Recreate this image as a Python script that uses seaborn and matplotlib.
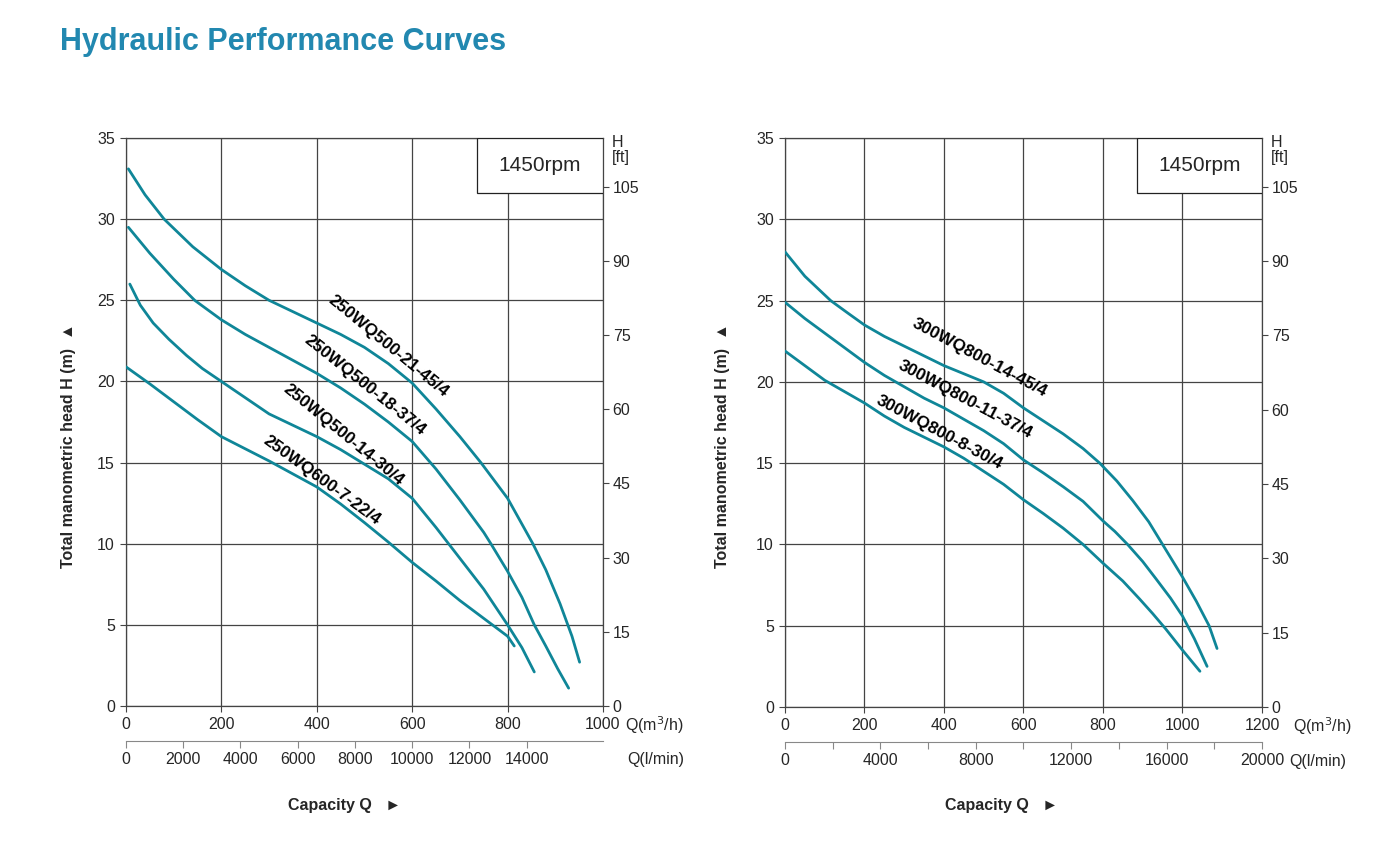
import numpy as np
import pandas as pd
import matplotlib
matplotlib.use("Agg")
import matplotlib.pyplot as plt
import seaborn as sns
from matplotlib.patches import Rectangle

# ---- data (Q in m3/h, H in m) ----
left_models = ['250WQ500-21-45/4', '250WQ500-18-37/4', '250WQ500-14-30/4', '250WQ600-7-22/4']
left_q = [
    [5, 40, 80, 140, 200, 250, 300, 350, 400, 450, 500, 550, 600, 650, 700, 744, 800,
     853, 880, 910, 935, 951],
    [5, 50, 100, 144, 200, 250, 300, 350, 400, 450, 500, 550, 600, 650, 700, 750, 765,
     800, 830, 856, 880, 905, 928],
    [8, 30, 57, 90, 127, 160, 200, 250, 300, 350, 400, 450, 500, 550, 600, 650, 700, 750,
     800, 830, 856],
    [0, 50, 100, 150, 200, 250, 300, 350, 400, 450, 500, 550, 600, 650, 700, 750, 800, 814],
]
left_h = [
    [33.1, 31.5, 30.0, 28.3, 26.9, 25.9, 25.0, 24.3, 23.6, 22.9, 22.1, 21.1, 19.9, 18.3,
     16.6, 15.0, 12.8, 10.0, 8.4, 6.3, 4.3, 2.7],
    [29.5, 27.9, 26.3, 25.0, 23.8, 22.9, 22.1, 21.3, 20.5, 19.6, 18.6, 17.5, 16.3, 14.6,
     12.7, 10.7, 10.0, 8.3, 6.7, 5.0, 3.7, 2.3, 1.1],
    [26.0, 24.7, 23.6, 22.6, 21.6, 20.8, 20.0, 19.0, 18.0, 17.3, 16.6, 15.8, 14.9, 14.0,
     12.8, 11.0, 9.1, 7.2, 5.0, 3.6, 2.1],
    [20.9, 19.85, 18.75, 17.65, 16.6, 15.85, 15.1, 14.3, 13.5, 12.45, 11.3, 10.1, 8.85,
     7.7, 6.5, 5.4, 4.3, 3.7],
]
right_models = ['300WQ800-14-45/4', '300WQ800-11-37/4', '300WQ800-8-30/4']
right_q = [
    [0, 50, 115, 160, 200, 250, 300, 350, 400, 450, 500, 550, 600, 650, 700, 750, 792,
     835, 875, 915, 950, 1000, 1035, 1067, 1087],
    [0, 50, 100, 150, 200, 250, 300, 350, 400, 450, 500, 550, 600, 650, 700, 750, 800,
     830, 862, 900, 933, 970, 1000, 1030, 1062],
    [0, 50, 100, 150, 200, 250, 300, 350, 400, 450, 500, 550, 600, 650, 700, 750, 800,
     850, 892, 925, 958, 1000, 1044],
]
right_h = [
    [28.0, 26.5, 25.0, 24.2, 23.5, 22.8, 22.2, 21.6, 21.0, 20.5, 20.0, 19.3, 18.4, 17.6,
     16.8, 15.9, 15.0, 13.9, 12.7, 11.4, 10.0, 8.0, 6.5, 5.0, 3.6],
    [24.9, 23.9, 23.0, 22.1, 21.2, 20.4, 19.7, 19.0, 18.4, 17.7, 17.0, 16.2, 15.2, 14.4,
     13.55, 12.65, 11.45, 10.8, 10.0, 8.95, 7.9, 6.7, 5.6, 4.2, 2.5],
    [21.9, 21.0, 20.1, 19.4, 18.7, 17.9, 17.2, 16.6, 16.0, 15.3, 14.5, 13.7, 12.75, 11.9,
     11.0, 10.0, 8.85, 7.75, 6.65, 5.75, 4.8, 3.5, 2.2],
]
# label placement (Q, H, angle)
left_lbl = [(549, 22.2, -39.5), (501, 19.8, -38.7), (455, 16.7, -39.3), (411, 13.9, -36.0)]
right_lbl = [(490, 21.5, -28.0), (453, 18.9, -28.0), (387, 16.9, -28.0)]

teal = '#0f8698'
grid_c = '#444444'

sns.set_style('white')
plt.rcParams['font.family'] = ['Liberation Sans', 'DejaVu Sans']


def to_df(models, qs, hs):
    rows = []
    for m, q, h in zip(models, qs, hs):
        for a, b in zip(q, h):
            rows.append((m, a, b))
    return pd.DataFrame(rows, columns=['model', 'Q', 'H'])


def panel(ax, models, qs, hs, lbls, xmax, lmin_major, lmin_minor, box_x0, qlab_x, llab_x):
    df = to_df(models, qs, hs)
    sns.lineplot(data=df, x='Q', y='H', hue='model', palette=[teal] * len(models),
                 sort=False, estimator=None, legend=False, lw=2.0, ax=ax, zorder=3)
    ax.set_xlim(0, xmax)
    ax.set_ylim(0, 35)
    ax.set_xticks(np.arange(0, xmax + 1, 200))
    ax.set_yticks(np.arange(0, 36, 5))
    ax.grid(True, color=grid_c, lw=0.9)
    for s in ax.spines.values():
        s.set_color(grid_c)
        s.set_linewidth(0.9)
    ax.tick_params(axis='both', direction='out', length=4, width=0.8, color=grid_c,
                   labelsize=11.5, pad=4, bottom=True, left=True)
    ax.set_xlabel('')
    ax.set_ylabel('')
    for m, (x, y, ang) in zip(models, lbls):
        ax.text(x, y, m, rotation=ang, ha='center', va='center', fontsize=12.3,
                fontweight='bold', color='black', zorder=5, rotation_mode='anchor')

    # rpm box
    ax.add_patch(Rectangle((box_x0, 31.6), xmax - box_x0, 3.4, facecolor='white',
                           edgecolor='#222222', lw=0.9, zorder=4))
    ax.text((box_x0 + xmax) / 2, 33.3, '1450rpm', ha='center', va='center',
            fontsize=15, zorder=5)

    # ft axis on the right
    ax2 = ax.twinx()
    ax2.set_ylim(0, 35 * 3.28084)
    ax2.set_yticks(np.arange(0, 106, 15))
    ax2.tick_params(axis='y', direction='out', length=4, width=0.8, color=grid_c,
                    labelsize=11.5, pad=3)
    for s in ax2.spines.values():
        s.set_visible(False)
    ax2.grid(False)
    ax.text(1.019, 0.979, 'H\n[ft]', transform=ax.transAxes, ha='left', va='center',
            fontsize=11.5, linespacing=1.0)

    # l/min axis below
    sec = ax.secondary_xaxis(-0.0616, functions=(lambda q: q * 1000 / 60,
                                                  lambda l: l * 60 / 1000))
    sec.set_xticks(lmin_major)
    if lmin_minor:
        sec.set_xticks(lmin_minor, minor=True)
    sec.spines['bottom'].set_color('#888888')
    sec.tick_params(axis='x', which='both', direction='out', length=5, width=0.8,
                    color='#888888', labelsize=11.5, pad=3)
    ax.text(qlab_x, -0.033, 'Q(m$^3$/h)', transform=ax.transAxes, ha='left',
            va='center', fontsize=11.5)
    ax.text(llab_x, -0.095, 'Q(l/min)', transform=ax.transAxes, ha='left',
            va='center', fontsize=11.5)


fig = plt.figure(figsize=(14, 8.5), dpi=100)
ax_l = fig.add_axes([0.09, 0.1694, 0.3407, 0.6682])
ax_r = fig.add_axes([0.5607, 0.1682, 0.3407, 0.6694])

panel(ax_l, left_models, left_q, left_h, left_lbl, 1000,
      list(range(0, 14001, 2000)), None, 736, 1.046, 1.05)
panel(ax_r, right_models, right_q, right_h, right_lbl, 1200,
      list(range(0, 20001, 4000)), list(range(2000, 20000, 4000)), 885, 1.065, 1.057)

fig.text(0.0429, 0.9506, 'Hydraulic Performance Curves', ha='left', va='center',
         fontsize=22, fontweight='bold', color='#2288b0')
for xc, yl in [(0.0486, 0.4753), (0.5164, 0.4753)]:
    fig.text(xc, yl, 'Total manometric head H (m)  \u25b2', rotation=90, ha='center',
             va='center', fontsize=11.5, fontweight='bold')
for xc in [0.246, 0.7157]:
    fig.text(xc, 0.0529, 'Capacity Q   \u25ba', ha='center', va='center',
             fontsize=11.5, fontweight='bold')

fig.savefig('out.png', dpi=100, facecolor='white')
